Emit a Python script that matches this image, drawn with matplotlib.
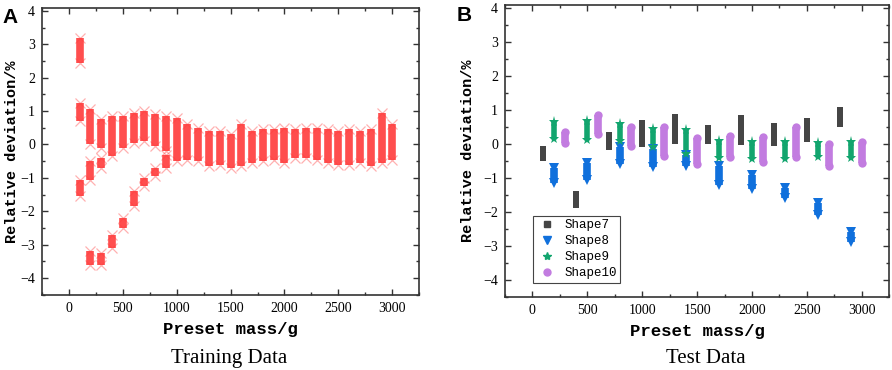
import numpy as np
import matplotlib
matplotlib.use("Agg")
import matplotlib.pyplot as plt
from matplotlib.ticker import MultipleLocator
from matplotlib.lines import Line2D

# ---------- data ----------
# training data: each entry is one vertical cloud of points (mass, low, high)
train_x = [100, 100, 100, 200, 200, 200, 300, 300, 300, 400, 400, 500, 500,
           600, 600, 700, 700, 800, 800, 900, 900, 1000, 1100, 1200, 1300,
           1400, 1500, 1600, 1700, 1800, 1900, 2000, 2100, 2200, 2300, 2400,
           2500, 2600, 2700, 2800, 2900, 3000]
train_lo = [2.45, 0.7, -1.55, 0.0, -1.05, -3.6, -0.1, -0.7, -3.6, -0.35, -3.1,
            -0.1, -2.5, 0.05, -1.85, 0.1, -1.25, -0.05, -0.95, -0.2, -0.7,
            -0.5, -0.45, -0.5, -0.65, -0.6, -0.7, -0.65, -0.55, -0.5, -0.45,
            -0.55, -0.4, -0.4, -0.45, -0.55, -0.6, -0.6, -0.55, -0.65, -0.55,
            -0.45]
train_hi = [3.2, 1.25, -1.05, 1.05, -0.5, -3.2, 0.75, -0.4, -3.25, 0.85, -2.7,
            0.85, -2.2, 0.95, -1.4, 1.0, -1.0, 0.9, -0.7, 0.85, -0.3, 0.8, 0.6,
            0.5, 0.4, 0.4, 0.3, 0.6, 0.4, 0.45, 0.45, 0.5, 0.45, 0.5, 0.5, 0.45,
            0.4, 0.45, 0.4, 0.45, 0.95, 0.6]

# test data, one cloud per mass
s7_x = [100, 400, 700, 1000, 1300, 1600, 1900, 2200, 2500, 2800]
s7_lo = [-0.52, -1.9, -0.18, -0.08, 0.0, 0.0, -0.02, -0.06, 0.04, 0.5]
s7_hi = [-0.05, -1.4, 0.36, 0.7, 0.88, 0.55, 0.85, 0.6, 0.75, 1.08]

s8_x = [200, 500, 800, 1100, 1400, 1700, 2000, 2300, 2600, 2900]
s8_lo = [-1.15, -1.05, -0.6, -0.68, -0.66, -1.2, -1.33, -1.6, -2.08, -2.88]
s8_hi = [-0.72, -0.55, -0.08, -0.15, -0.32, -0.65, -0.92, -1.3, -1.75, -2.6]

s9_x = [200, 500, 800, 1100, 1400, 1700, 2000, 2300, 2600, 2900]
s9_lo = [0.13, 0.12, 0.08, -0.1, -0.3, -0.42, -0.45, -0.45, -0.38, -0.42]
s9_hi = [0.63, 0.68, 0.58, 0.45, 0.42, 0.08, 0.04, 0.04, 0.02, 0.04]

s10_x = [300, 600, 900, 1200, 1500, 1800, 2100, 2400, 2700, 3000]
s10_lo = [0.02, 0.3, -0.06, -0.36, -0.58, -0.4, -0.54, -0.4, -0.64, -0.56]
s10_hi = [0.36, 0.84, 0.5, 0.5, 0.16, 0.24, 0.2, 0.5, 0.0, 0.06]

RED = "#ff3b3b"
GRAY, BLUE, GREEN, VIOLET = "#454545", "#1070dc", "#12a56e", "#c27ce0"
MONO = "Liberation Mono"

plt.rcParams.update({"font.family": "Liberation Serif", "font.size": 10})

fig = plt.figure(figsize=(8.92, 3.70), dpi=100)
axA = fig.add_axes([0.047, 0.203, 0.423, 0.775])
axB = fig.add_axes([0.566, 0.198, 0.431, 0.788])


def style(ax, ylab_x):
    ax.set_xlim(-250, 3250)
    ax.set_ylim(-4.5, 4.08)
    ax.xaxis.set_major_locator(MultipleLocator(500))
    ax.xaxis.set_minor_locator(MultipleLocator(250))
    ax.yaxis.set_major_locator(MultipleLocator(1))
    ax.yaxis.set_minor_locator(MultipleLocator(0.5))
    ax.tick_params(which="both", direction="in", top=True, right=True,
                   color="#333333", width=1.0)
    ax.tick_params(which="major", length=4, pad=5, labelsize=10)
    ax.tick_params(which="minor", length=2.5)
    for s in ax.spines.values():
        s.set_linewidth(1.2); s.set_color("#333333")
    ax.set_xlabel("Preset mass/g", family=MONO, size=12.5, weight="semibold")
    ax.set_ylabel("Relative deviation/%", family=MONO, size=11, weight="semibold")
    ax.xaxis.set_label_coords(0.5, -0.095)
    ax.yaxis.set_label_coords(ylab_x, 0.5)


# ---------- A: training data ----------
for x, lo, hi in zip(train_x, train_lo, train_hi):
    axA.plot([x, x], [lo, hi], color=RED, lw=5.5, alpha=0.9, solid_capstyle="butt", zorder=2)
    axA.plot([x, x], [lo, hi], ls="none", marker="x", ms=6.5, mew=0.9,
             color=RED, alpha=0.4, zorder=3)
style(axA, -0.062)

# ---------- B: test data ----------
def cloud(ax, xs, los, his, color, marker, ms, lw):
    for x, lo, hi in zip(xs, los, his):
        ax.plot([x, x], [lo, hi], color=color, lw=lw, solid_capstyle="butt", zorder=2)
        ax.plot([x, x], [lo, hi], ls="none", marker=marker, ms=ms, color=color, mew=0, zorder=3)

for x, lo, hi in zip(s7_x, s7_lo, s7_hi):
    axB.bar(x, hi - lo, bottom=lo, width=52, color=GRAY, zorder=2)
cloud(axB, s8_x, s8_lo, s8_hi, BLUE, "v", 7.5, 5.5)
cloud(axB, s9_x, s9_lo, s9_hi, GREEN, "*", 8, 4)
cloud(axB, s10_x, s10_lo, s10_hi, VIOLET, "o", 6, 5.5)
style(axB, -0.078)

handles = [Line2D([], [], ls="none", marker="s", ms=5, color=GRAY),
           Line2D([], [], ls="none", marker="v", ms=6, color=BLUE),
           Line2D([], [], ls="none", marker="*", ms=6, color=GREEN),
           Line2D([], [], ls="none", marker="o", ms=5, color=VIOLET)]
leg = axB.legend(handles, ["Shape7", "Shape8", "Shape9", "Shape10"],
                 loc="lower left", bbox_to_anchor=(0.073, 0.047), borderaxespad=0,
                 prop={"family": MONO, "size": 9}, fancybox=False, framealpha=1,
                 edgecolor="#444444", handletextpad=0.6, labelspacing=0.32,
                 borderpad=0.3, handlelength=1.6)
leg.get_frame().set_linewidth(0.8)

fig.text(0.257, 0.032, "Training Data", ha="center", va="center", size=15)
fig.text(0.791, 0.032, "Test Data", ha="center", va="center", size=15)
fig.text(0.003, 0.978, "A", ha="left", va="top", size=15, weight="bold", family="Liberation Sans")
fig.text(0.512, 0.985, "B", ha="left", va="top", size=15, weight="bold", family="Liberation Sans")

fig.savefig("out.png", dpi=100)
